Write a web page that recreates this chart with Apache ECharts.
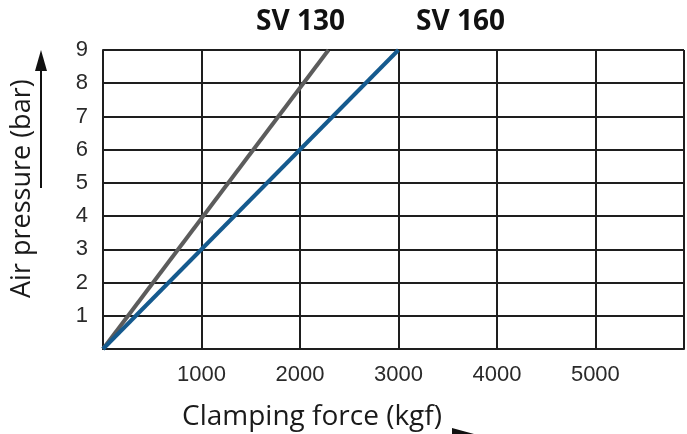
<!DOCTYPE html>
<html><head><meta charset="utf-8">
<script src="https://cdn.jsdelivr.net/npm/echarts@6/dist/echarts.min.js"></script>
<style>html,body{margin:0;padding:0;background:#fff}#c{width:687px;height:434px}</style>
</head><body><div id="c"></div>
<script>
var seriesNames = ['SV 130', 'SV 160'];
var sv130 = [[0, 0], [2290, 9]];
var sv160 = [[0, 0], [3000, 9]];
var xTicks = [1000, 2000, 3000, 4000, 5000];
var yTicks = [1, 2, 3, 4, 5, 6, 7, 8, 9];
var xTitle = 'Clamping force (kgf)';
var yTitle = 'Air pressure (bar)';

var chart = echarts.init(document.getElementById('c'), null, {renderer: 'canvas'});
var gridColor = '#1e1e1e';
chart.setOption({
  animation: false,
  grid: {left: 103, right: 0, top: 50, bottom: 85, containLabel: false},
  xAxis: {
    type: 'value', min: 0, max: 5900, interval: 1000,
    axisLine: {show: true, lineStyle: {color: gridColor, width: 2}},
    axisTick: {show: false},
    splitLine: {show: true, lineStyle: {color: gridColor, width: 2}},
    axisLabel: {
      margin: 15, color: '#2a2a2a', fontFamily: 'Liberation Sans', fontSize: 22,
      formatter: function (v) { return xTicks.indexOf(v) >= 0 ? String(v) : ''; }
    }
  },
  yAxis: {
    type: 'value', min: 0, max: 9, interval: 1,
    axisLine: {show: true, lineStyle: {color: gridColor, width: 2}},
    axisTick: {show: false},
    splitLine: {show: true, lineStyle: {color: gridColor, width: 2}},
    axisLabel: {
      margin: 15, color: '#2a2a2a', fontFamily: 'Liberation Sans', fontSize: 22,
      formatter: function (v) { return yTicks.indexOf(v) >= 0 ? String(v) : ''; }
    }
  },
  series: [
    {name: seriesNames[0], type: 'line', data: sv130, showSymbol: false,
     lineStyle: {color: '#5c5c5c', width: 4}},
    {name: seriesNames[1], type: 'line', data: sv160, showSymbol: false,
     lineStyle: {color: '#155a8e', width: 4}}
  ],
  graphic: [
    {type: 'text', left: 256, top: 8, style: {text: seriesNames[0], font: 'bold 28px "Open Sans"', fill: '#111'}},
    {type: 'text', left: 416, top: 8, style: {text: seriesNames[1], font: 'bold 28px "Open Sans"', fill: '#111'}},
    {type: 'text', left: 182, top: 403, style: {text: xTitle, font: '28px "Open Sans"', fill: '#1a1a1a'}},
    {type: 'text', x: 9, y: 298, rotation: Math.PI / 2, style: {text: yTitle, font: '27px "Open Sans"', fill: '#1a1a1a', textAlign: 'left', textVerticalAlign: 'top'}},
    {type: 'line', shape: {x1: 41, y1: 188, x2: 41, y2: 66}, style: {stroke: '#111', lineWidth: 2}},
    {type: 'polygon', shape: {points: [[41, 50], [35, 71], [47, 71]]}, style: {fill: '#111'}},
    {type: 'polygon', shape: {points: [[452, 428], [474, 434], [452, 434]]}, style: {fill: '#111'}}
  ]
});
</script></body></html>
